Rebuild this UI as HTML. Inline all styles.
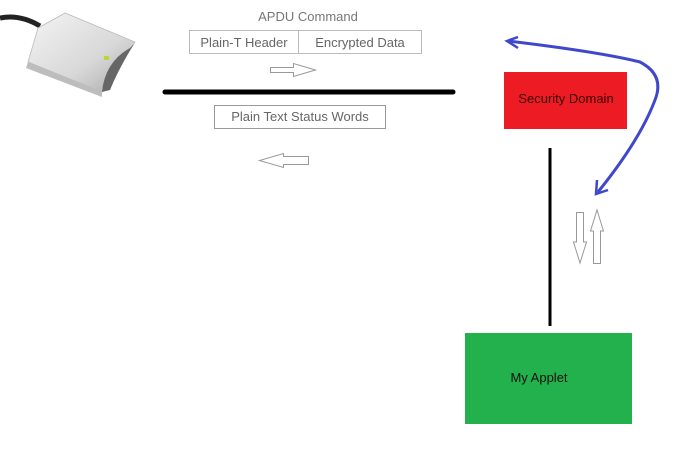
<!DOCTYPE html>
<html><head><style>
html,body{margin:0;padding:0;background:#fff;}
svg{display:block;}
text{font-family:"Liberation Sans",sans-serif;}
</style></head><body>
<svg width="679" height="459" viewBox="0 0 679 459" xmlns="http://www.w3.org/2000/svg">
<defs>
<linearGradient id="rd" x1="0" y1="0" x2="1" y2="1">
<stop offset="0" stop-color="#f4f4f4"/><stop offset="0.6" stop-color="#d8d8d8"/><stop offset="1" stop-color="#a8a8a8"/>
</linearGradient>
</defs>
<!-- card reader -->
<path d="M0 18 Q20 14 40 26" stroke="#222" stroke-width="5" fill="none"/>
<path d="M38 28 L65 13 L135 42 L102 92 L28 62 Z" fill="url(#rd)" stroke="#bbb" stroke-width="0.8"/>
<path d="M28 62 L102 92 L102 97 L26 68 Z" fill="#bdbdbd"/>
<path d="M102 92 Q105 62 130 48 L134 44 Q118 70 110 90 Z" fill="#666"/>
<rect x="104" y="56" width="5" height="4" fill="#b8d830"/>
<!-- APDU -->
<text x="308" y="21" font-size="13" fill="#777" text-anchor="middle">APDU Command</text>
<rect x="189.5" y="30.5" width="109" height="23" fill="#fff" stroke="#bbb"/>
<rect x="298.5" y="30.5" width="123" height="23" fill="#fff" stroke="#bbb"/>
<text x="244" y="47" font-size="13" fill="#666" text-anchor="middle">Plain-T Header</text>
<text x="360" y="47" font-size="13" fill="#666" text-anchor="middle">Encrypted Data</text>
<path d="M270.5 67.5 H293.5 V63.5 L315.5 70 L293.5 76.5 V72.5 H270.5 Z" fill="#fff" stroke="#999"/>
<line x1="165" y1="92" x2="453" y2="92" stroke="#000" stroke-width="5" stroke-linecap="round"/>
<rect x="214.5" y="105.5" width="171" height="23" fill="#fff" stroke="#999"/>
<text x="300" y="121" font-size="13" fill="#666" text-anchor="middle">Plain Text Status Words</text>
<path d="M308.5 156.5 H283.5 V153.5 L259.5 160.5 L283.5 167.5 V164.5 H308.5 Z" fill="#fff" stroke="#999"/>
<!-- security domain -->
<rect x="504" y="72" width="123" height="57" fill="#ed1c24"/>
<text x="566" y="103" font-size="13" fill="#3a0000" text-anchor="middle">Security Domain</text>
<line x1="550" y1="148" x2="550" y2="326" stroke="#000" stroke-width="3"/>
<path d="M576.5 212.5 H583.5 V242 H586.5 L580 263 L573.5 242 H576.5 Z" fill="#fff" stroke="#999"/>
<path d="M593.5 263.5 H600.5 V231 H603.5 L597 210 L590.5 231 H593.5 Z" fill="#fff" stroke="#999"/>
<!-- blue curve -->
<path d="M508 41 Q600 52 640 62 Q665 75 655 100 Q640 140 598 192" stroke="#3f48cc" stroke-width="3" fill="none"/>
<path d="M518 37 L507 41 L518 48" stroke="#3f48cc" stroke-width="2.5" fill="none"/>
<path d="M597 180 L596 194 L608 190" stroke="#3f48cc" stroke-width="2.5" fill="none"/>
<!-- applet -->
<rect x="465" y="333" width="167" height="91" fill="#22b14c"/>
<text x="539" y="382" font-size="13" fill="#111" text-anchor="middle">My Applet</text>
</svg>
</body></html>
